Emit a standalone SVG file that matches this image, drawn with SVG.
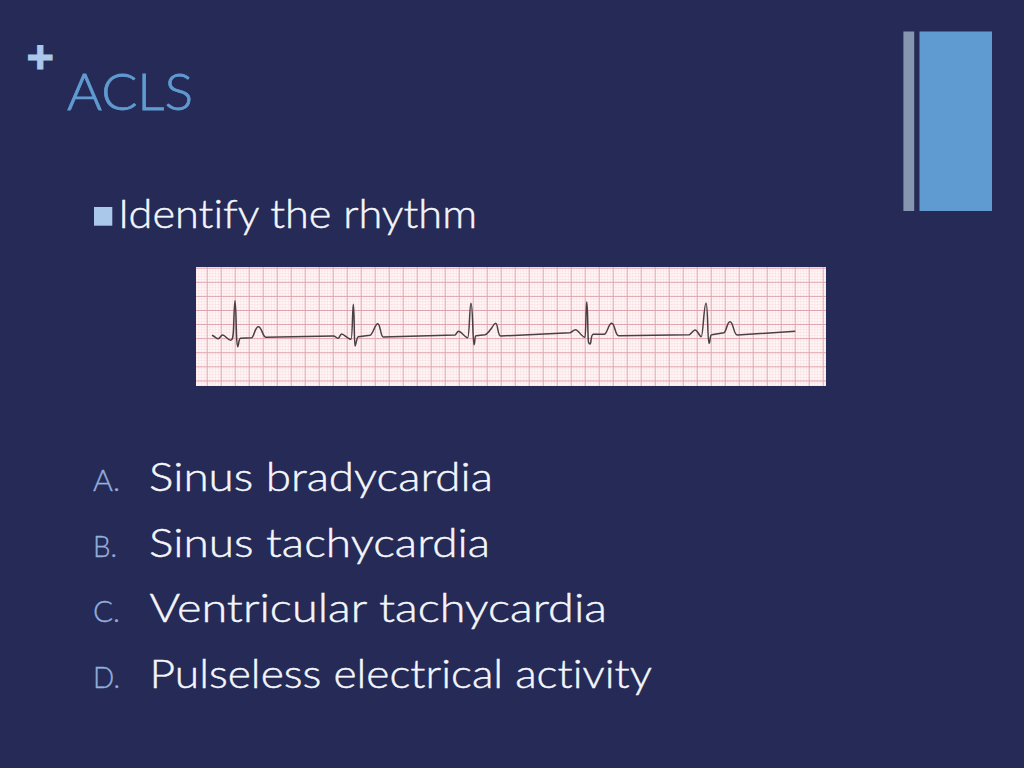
<svg xmlns="http://www.w3.org/2000/svg" width="1024" height="768" viewBox="0 0 1024 768">
<style>
text{font-family:"Lato","Open Sans","Liberation Sans",sans-serif;font-weight:300;font-variant-ligatures:none}
.o{font-size:39px;fill:#f4f6fb;stroke:#f4f6fb;stroke-width:.45px}
.l{font-size:29px;fill:#93afdc;stroke:#93afdc;stroke-width:.35px}
</style>
<defs>
<pattern id="fine" x="192.7" y="267.7" width="2.8" height="2.8" patternUnits="userSpaceOnUse">
<path d="M0 0H2.8M0 0V2.8" fill="none" stroke="#f5cfd3" stroke-width="0.7"/>
</pattern>
<pattern id="major" x="192.7" y="267.7" width="14" height="14.1" patternUnits="userSpaceOnUse">
<path d="M0 0.4H14M0.4 0V14.1" fill="none" stroke="#d99aa3" stroke-width="1" stroke-opacity=".9"/>
</pattern>
</defs>
<rect width="1024" height="768" fill="#262a56"/>
<rect x="903.4" y="31.5" width="10.8" height="179.5" fill="#8696b0"/>
<rect x="919.5" y="31.5" width="72.5" height="179.5" fill="#5f9bd1"/>
<text x="26.500" y="73" style="font-family:'Liberation Sans',sans-serif;font-weight:700;font-size:47px;fill:#a9c8ea;stroke:#a9c8ea;stroke-width:1px">+</text>
<text x="67" y="109.500" textLength="126" lengthAdjust="spacingAndGlyphs" style="font-size:52px;fill:#5f9bd1;stroke:#5f9bd1;stroke-width:.8px">ACLS</text>
<rect x="94" y="207" width="18.300" height="18.700" fill="#a9c8ea"/>
<text class="o" x="118" y="227.500" textLength="359" lengthAdjust="spacingAndGlyphs">Identify the rhythm</text>
<g id="ecg-strip">
<rect x="196" y="267" width="630" height="119" fill="#fff7f7"/>
<rect x="196" y="267" width="630" height="119" fill="url(#fine)"/>
<rect x="196" y="267" width="630" height="119" fill="url(#major)"/>
<path d="M212 335.3C215 336.5 216.500 338.700 218.300 338.700C219.800 338.700 220.800 335 222.700 335C225 335 228 340.300 230.700 340.300C232.500 340.300 233 338 233.500 330C234 318 234.300 300.700 235 300.700C235.800 300.700 236 320 236.500 335C236.800 342 237 346.700 237.700 346.700C238.700 346.700 238.500 338.700 240.500 338.300L251.700 337.700C254 337 255 326.700 258.300 326.700C262 326.700 262.500 337.300 266 337.300L333.300 336C335.500 336 336.500 338.300 338.300 338.300C339.500 338.300 340 334 341.700 334C344 334 348 339.300 351 339.300C352.500 339.300 352.500 304.300 353.300 304.300C354.500 304.300 354 346 355 346C356 346 356.500 337 358.300 336.700L370 335.300C373 334.500 375 323.700 377.700 323.700C380.500 323.700 380.500 337 383.300 337L455 335C456.500 334.500 457 331.300 458.700 331.300C461 331.300 465 337.700 467.700 337.700C469.500 337.700 469.500 303.300 471 303.300C472.800 303.300 472.800 344.700 474 344.700C475 344.700 474.500 336 476 335.700L485 334.700C488 334 490 330 491.700 328C493 326 494 323.300 495.700 323.300C498 323.300 497.500 336 500.700 336L570 332.700C572 332 573.500 329.700 575.700 329.700C578 329.700 582 337.300 585 337.300C586 337.300 585.800 302 586.700 302C588 302 587.500 337 588.500 342C589 344 589.500 344 590 344C591.500 344 590.500 334.500 593.300 334.300L604.300 334.300C607.500 333 608.500 323.300 611.700 323.300C615 323.300 615 335.700 618.700 335.700L689.300 334.700C691.500 334 693 330 695 330C697.500 330 699.500 336.700 701.300 336.700C703 336.700 704 303.300 706 303.300C708 303.300 707.500 343.300 709 343.300C710.500 343.300 709.500 335 711.700 334.700L724 332.700C726.500 331.500 727 321.700 730 321.700C733.500 321.700 733.500 335 737.300 335L795.300 331.300" fill="none" stroke="#4a3f44" stroke-width="1.5" stroke-linejoin="round"/>
</g>
<text class="l" x="93" y="491" textLength="27" lengthAdjust="spacingAndGlyphs">A.</text>
<text class="o" x="149" y="491" textLength="344" lengthAdjust="spacingAndGlyphs">Sinus bradycardia</text>
<text class="l" x="93" y="557" textLength="24" lengthAdjust="spacingAndGlyphs">B.</text>
<text class="o" x="149" y="557" textLength="341" lengthAdjust="spacingAndGlyphs">Sinus tachycardia</text>
<text class="l" x="93" y="622" textLength="27" lengthAdjust="spacingAndGlyphs">C.</text>
<text class="o" x="149.500" y="622" textLength="457.500" lengthAdjust="spacingAndGlyphs">Ventricular tachycardia</text>
<text class="l" x="93" y="688" textLength="27" lengthAdjust="spacingAndGlyphs">D.</text>
<text class="o" x="149.500" y="688" textLength="502.500" lengthAdjust="spacingAndGlyphs">Pulseless electrical activity</text>
</svg>
